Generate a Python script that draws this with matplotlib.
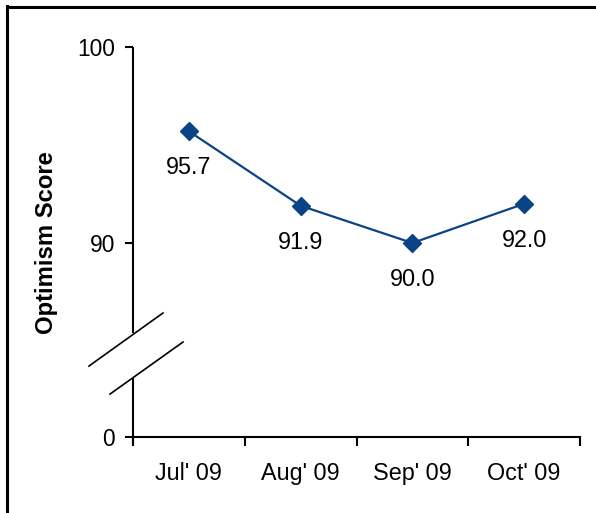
import numpy as np
import matplotlib.pyplot as plt
from matplotlib.lines import Line2D

plt.rcParams['font.family'] = ['Liberation Sans', 'DejaVu Sans']

# data
months = ["Jul' 09", "Aug' 09", "Sep' 09", "Oct' 09"]
scores = [95.7, 91.9, 90.0, 92.0]
ytick_vals = [80.1, 90, 100]   # 0 is drawn just below the axis break
ytick_labels = ["0", "90", "100"]

line_color = '#0b4387'

fig = plt.figure(figsize=(5.96, 5.13), dpi=100)
ax = fig.add_axes([133/596, 1-437/513, 447/596, 390/513])

x = np.arange(len(months))
ax.plot(x, scores, color=line_color, lw=1.6, marker='D', markersize=9.5,
        markerfacecolor=line_color, markeredgecolor=line_color)

for xi, v in zip(x, scores):
    ax.annotate(f"{v:.1f}", (xi, v), xytext=(0, -31), textcoords='offset points',
                ha='center', va='baseline', fontsize=16.8)

ax.set_xlim(-0.5, len(months) - 0.5)
ax.set_ylim(80.1, 100)

# category boundaries get tick marks, labels sit in between
ax.set_xticks(np.arange(len(months) + 1) - 0.5)
ax.set_xticklabels([])
ax.set_xticks(x, minor=True)
ax.set_xticklabels(months, minor=True, fontsize=16.8)
ax.tick_params(axis='x', which='major', direction='out', length=6.5, width=1.5)
ax.tick_params(axis='x', which='minor', length=0, pad=18)

ax.set_yticks(ytick_vals)
ax.set_yticklabels(ytick_labels, fontsize=16.4)
ax.tick_params(axis='y', direction='out', length=6, width=1.5, pad=7)

for s in ['top', 'right', 'left']:
    ax.spines[s].set_visible(False)
ax.spines['bottom'].set_linewidth(1.5)

# broken y axis
lo_end = (437 - 378) / 390
hi_start = (437 - 333) / 390
ax.plot([0, 0], [-9/390, lo_end], transform=ax.transAxes, color='black', lw=1.5, clip_on=False, solid_capstyle='butt')
ax.plot([0, 0], [hi_start, 1.0], transform=ax.transAxes, color='black', lw=1.5, clip_on=False, solid_capstyle='butt')
ax.plot([-0.0984, 0.0671], [0.182, 0.318], transform=ax.transAxes, color='black', lw=1.2, clip_on=False)
ax.plot([-0.0515, 0.1119], [0.110, 0.2436], transform=ax.transAxes, color='black', lw=1.2, clip_on=False)

fig.text(47/596, 1-243/513, 'Optimism Score', rotation=90, fontsize=17.2,
         fontweight='bold', ha='center', va='center')

# frame around the chart (only top and left show)
fig.add_artist(Line2D([7/596, 7/596], [0, 1-6/513], color='black', lw=2.2))
fig.add_artist(Line2D([7/596, 1], [1-6.5/513, 1-6.5/513], color='black', lw=2.2))

fig.savefig('out.png', dpi=100)
